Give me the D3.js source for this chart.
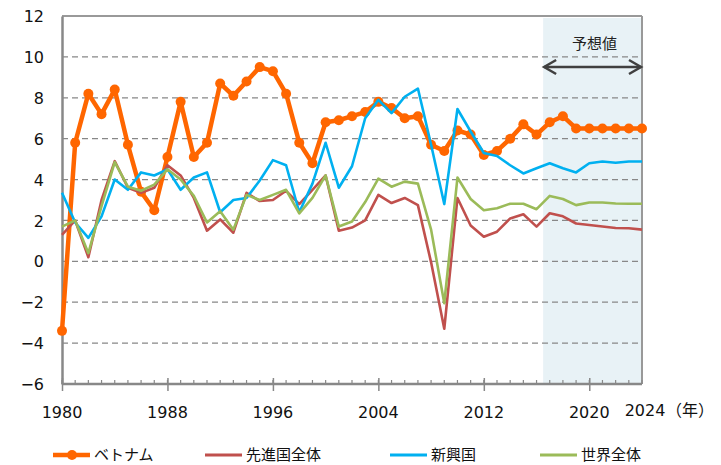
<!DOCTYPE html>
<html><head><meta charset="utf-8">
<script src="https://cdn.jsdelivr.net/npm/d3@7"></script>
<style>body{margin:0;background:#fff}svg{display:block}</style>
</head><body><svg id="c" width="721" height="465"></svg>
<script>
const years = d3.range(1980, 2025);
const vietnam = [-3.4,5.8,8.2,7.2,8.4,5.7,3.4,2.5,5.1,7.8,5.1,5.8,8.7,8.1,8.8,9.5,9.3,8.2,5.8,4.8,6.8,6.9,7.1,7.3,7.8,7.5,7.0,7.1,5.7,5.4,6.4,6.2,5.2,5.4,6.0,6.7,6.2,6.8,7.1,6.5,6.5,6.5,6.5,6.5,6.5];
const advanced = [1.3,2.0,0.2,3.0,4.9,3.6,3.35,3.6,4.7,4.2,3.1,1.5,2.05,1.4,3.35,2.95,3.0,3.45,2.8,3.5,4.2,1.5,1.65,2.0,3.25,2.85,3.1,2.75,-0.05,-3.3,3.1,1.75,1.2,1.45,2.1,2.3,1.7,2.35,2.2,1.85,1.78,1.7,1.63,1.62,1.55];
const emerging = [3.35,1.9,1.15,2.2,4.0,3.5,4.35,4.2,4.5,3.5,4.1,4.35,2.4,3.0,3.1,3.95,4.95,4.7,2.4,3.8,5.8,3.6,4.65,7.0,7.9,7.25,8.05,8.45,5.7,2.8,7.45,6.35,5.3,5.15,4.7,4.3,4.55,4.8,4.55,4.35,4.8,4.88,4.82,4.88,4.88];
const world = [1.7,2.0,0.4,2.7,4.85,3.65,3.45,3.75,4.5,4.0,3.2,1.9,2.45,1.55,3.25,3.0,3.25,3.5,2.35,3.1,4.2,1.7,1.95,2.9,4.05,3.65,3.9,3.8,1.55,-2.05,4.1,3.05,2.5,2.6,2.82,2.82,2.55,3.2,3.05,2.75,2.88,2.88,2.83,2.82,2.82];
const yTicks = [-6,-4,-2,0,2,4,6,8,10,12];
const xLabels = [1980,1988,1996,2004,2012,2020,2024];
const seriesNames = ["ベトナム","先進国全体","新興国","世界全体"];
const colors = ["#FF6600","#C0504D","#00B0F0","#9BBB59"];
const forecastStart = 2016.5;
const forecastLabel = "予想値";
const yearUnit = "（年）";

const svg = d3.select("#c");
const x = d3.scaleLinear().domain([1980, 2024]).range([62, 642]);
const y = d3.scaleLinear().domain([-6, 12]).range([384, 16]);

// forecast shading
svg.append("rect").attr("x", x(forecastStart)).attr("y", y(12)+2)
  .attr("width", x(2024)-x(forecastStart)).attr("height", y(-6)-y(12)-2)
  .attr("fill", "#e8f2f6");

// gridlines
svg.append("g").selectAll("line").data(yTicks.filter(d=>d>-6 && d<12)).join("line")
  .attr("x1", x(1980)).attr("x2", x(2024)).attr("y1", d=>y(d)).attr("y2", d=>y(d))
  .attr("stroke", "#888").attr("stroke-width", 1.3).attr("stroke-dasharray", "6,4");
// top & right border
svg.append("line").attr("x1", x(1980)).attr("x2", x(2024)).attr("y1", y(12)).attr("y2", y(12))
  .attr("stroke", "#999").attr("stroke-width", 2);
svg.append("line").attr("x1", x(2024)).attr("x2", x(2024)).attr("y1", y(12)).attr("y2", y(-6))
  .attr("stroke", "#999").attr("stroke-width", 2);

// y axis
const yAxis = d3.axisLeft(y).tickValues(yTicks).tickSize(0).tickPadding(18).tickFormat(d3.format("d"));
const ya = svg.append("g").attr("transform", `translate(${x(1980)},0)`).call(yAxis);
ya.select(".domain").attr("stroke", "#888").attr("stroke-width", 2.5);
ya.selectAll("text").attr("font-family", "DejaVu Sans, Verdana, sans-serif").attr("font-size", 16).attr("fill", "#111").attr("dy", "0.35em");

// x axis: minor ticks
const xg = svg.append("g").attr("transform", `translate(0,${y(-6)})`);
xg.selectAll("line.minor").data(years).join("line").attr("class","minor")
  .attr("x1", d=>x(d)).attr("x2", d=>x(d)).attr("y1", -4).attr("y2", 0)
  .attr("stroke", "#888").attr("stroke-width", 1.2);
const xAxis = d3.axisBottom(x).tickValues([1980,1988,1996,2004,2012,2020]).tickSize(7).tickFormat("");
const xa = xg.append("g").call(xAxis);
xa.select(".domain").attr("stroke", "#888").attr("stroke-width", 2.5).attr("d", `M${x(1980)},0H${x(2024)}`);
xa.selectAll(".tick line").attr("stroke", "#888").attr("stroke-width", 1.5).attr("y1", -6);
xg.selectAll("text.xl").data(xLabels).join("text").attr("class","xl")
  .attr("x", d=> d===2024 ? x(d)+3 : x(d)).attr("y", d=> d===2024 ? 32 : 34)
  .attr("text-anchor", "middle").attr("font-family", "DejaVu Sans, Verdana, sans-serif")
  .attr("font-size", 16).attr("fill", "#111").text(d=>d);
xg.append("text").attr("x", x(2024)+24).attr("y", 32).attr("font-family", "Noto Sans CJK JP, sans-serif")
  .attr("font-size", 16).attr("fill", "#111").text(yearUnit);

// lines
const allSeries = [vietnam, advanced, emerging, world];
const line = d3.line().x((d,i)=>x(years[i])).y(d=>y(d));
const order = [0,1,2,3];
order.forEach(k=>{
  svg.append("path").datum(allSeries[k]).attr("d", line).attr("fill","none")
    .attr("stroke", colors[k]).attr("stroke-width", k===0?4.5:2.6).attr("stroke-linejoin","round");
  if(k===0){
    svg.append("g").selectAll("circle").data(vietnam).join("circle")
      .attr("cx",(d,i)=>x(years[i])).attr("cy",d=>y(d)).attr("r",5).attr("fill",colors[0]);
  }
});

// forecast arrow
const ay = 67;
const ax1 = x(forecastStart)+1, ax2 = x(2024)-1;
svg.append("line").attr("x1", ax1).attr("x2", ax2).attr("y1", ay).attr("y2", ay)
  .attr("stroke","#404040").attr("stroke-width",2.5);
svg.append("path").attr("d", `M${ax1+12},${ay-7}L${ax1},${ay}L${ax1+12},${ay+7}`)
  .attr("fill","none").attr("stroke","#404040").attr("stroke-width",2.5);
svg.append("path").attr("d", `M${ax2-12},${ay-7}L${ax2},${ay}L${ax2-12},${ay+7}`)
  .attr("fill","none").attr("stroke","#404040").attr("stroke-width",2.5);
svg.append("text").attr("x", (ax1+ax2)/2+2).attr("y", 49).attr("text-anchor","middle")
  .attr("font-family","Noto Sans CJK JP, sans-serif").attr("font-size",15).attr("fill","#222").text(forecastLabel);

// legend
const legX = [53, 205, 390, 540];
const lg = svg.append("g").attr("transform","translate(0,455)");
seriesNames.forEach((n,k)=>{
  lg.append("line").attr("x1", legX[k]).attr("x2", legX[k]+37).attr("y1",0).attr("y2",0)
    .attr("stroke", colors[k]).attr("stroke-width", k===0?4.5:3);
  if(k===0) lg.append("circle").attr("cx", legX[k]+19).attr("cy",0).attr("r",5).attr("fill",colors[0]);
  lg.append("text").attr("x", legX[k]+41).attr("y", 0).attr("dy","0.35em")
    .attr("font-family","Noto Sans CJK JP, sans-serif").attr("font-size",15).attr("fill","#111").text(n);
});
</script></body></html>
